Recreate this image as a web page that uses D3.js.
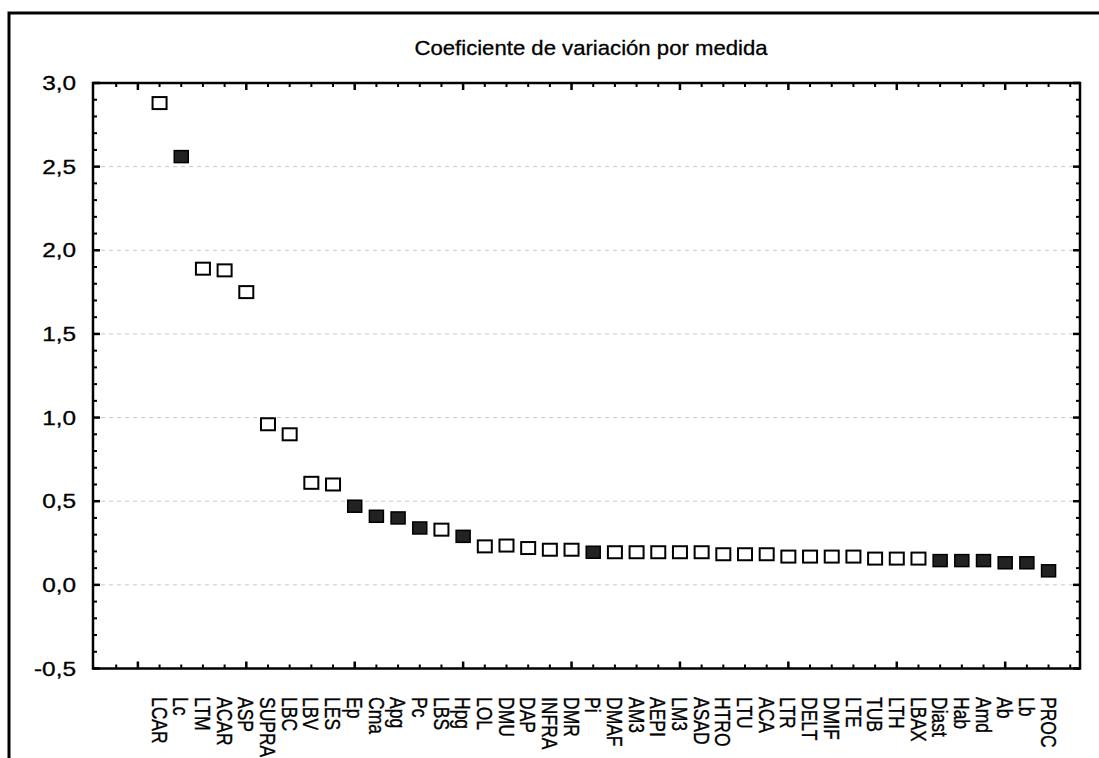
<!DOCTYPE html>
<html>
<head>
<meta charset="utf-8">
<script src="https://cdn.jsdelivr.net/npm/d3@7"></script>
<style>
  html, body { margin: 0; padding: 0; background: #fff; }
  svg { display: block; }
  text { font-family: "Liberation Sans", Arial, sans-serif; fill: #000; stroke: #000; stroke-width: 0.3px; }
</style>
</head>
<body>
<svg id="chart" width="1099" height="758"></svg>
<script>
// ---- data ----
const categories = ["LCAR","Lc","LTM","ACAR","ASP","SUPRA","LBC","LBV","LES","Ep","Cma","Apg","Pc","LBS","Hpg","LOL","DMU","DAP","INFRA","DMR","Pi","DMAF","AM3","AEPI","LM3","ASAD","HTRO","LTU","ACA","LTR","DELT","DMIF","LTE","TUB","LTH","LBAX","Diast","Hab","Amd","Ab","Lb","PROC"];
const values = [2.88,2.56,1.89,1.88,1.75,0.96,0.90,0.61,0.60,0.47,0.41,0.40,0.34,0.33,0.29,0.23,0.235,0.22,0.21,0.21,0.195,0.195,0.195,0.195,0.195,0.195,0.183,0.183,0.183,0.169,0.169,0.169,0.169,0.157,0.157,0.157,0.145,0.145,0.145,0.132,0.132,0.084];
const filled = [0,1,0,0,0,0,0,0,0,1,1,1,1,0,1,0,0,0,0,0,1,0,0,0,0,0,0,0,0,0,0,0,0,0,0,0,1,1,1,1,1,1];
const yTickValues = [3.0,2.5,2.0,1.5,1.0,0.5,0.0,-0.5];
const yTickLabels = ["3,0","2,5","2,0","1,5","1,0","0,5","0,0","-0,5"];
const titleText = "Coeficiente de variación por medida";

// ---- layout ----
const svg = d3.select("#chart");
const L = 93, R = 1080, T = 83, B = 668.5;
const x = d3.scaleLinear().domain([-2.07, 43.45]).range([L, R]);
const y = d3.scaleLinear().domain([-0.5, 3.0]).range([B, T]);

// outer frame (clipped by the picture)
svg.append("path")
  .attr("d", `M9,770 L9,13 L1110,13`)
  .attr("fill", "none").attr("stroke", "#000").attr("stroke-width", 3);

// title
svg.append("text")
  .attr("transform", "translate(591,55) scale(1.08,1)")
  .attr("text-anchor", "middle")
  .attr("font-size", 20.5)
  .text(titleText);

// grid lines
svg.append("g").selectAll("line")
  .data(yTickValues.filter(v => v >= 0 && v < 3))
  .join("line")
  .attr("x1", L).attr("x2", R)
  .attr("y1", d => y(d)).attr("y2", d => y(d))
  .attr("stroke", "#c8c8c8").attr("stroke-width", 1)
  .attr("stroke-dasharray", "4,4");

// y minor/major ticks (inward, both sides)
const yTicksAll = d3.range(-5, 31).map(d => d / 10);
const yt = svg.append("g");
yTicksAll.forEach(v => {
  const major = Math.abs(Math.round(v * 10) % 5) === 0;
  const len = major ? 7 : 4;
  yt.append("line").attr("x1", L).attr("x2", L + len).attr("y1", y(v)).attr("y2", y(v))
    .attr("stroke", "#000").attr("stroke-width", major ? 2.5 : 2);
  yt.append("line").attr("x1", R).attr("x2", R - len).attr("y1", y(v)).attr("y2", y(v))
    .attr("stroke", "#000").attr("stroke-width", major ? 2.5 : 2);
});

// x ticks (inward, top and bottom)
const xTicksAll = d3.range(-1, 44);
const xt = svg.append("g");
xTicksAll.forEach(v => {
  const major = v % 5 === 0;
  const len = major ? 7 : 4;
  xt.append("line").attr("x1", x(v)).attr("x2", x(v)).attr("y1", B).attr("y2", B - len)
    .attr("stroke", "#000").attr("stroke-width", major ? 2.5 : 2);
  xt.append("line").attr("x1", x(v)).attr("x2", x(v)).attr("y1", T).attr("y2", T + len)
    .attr("stroke", "#000").attr("stroke-width", major ? 2.5 : 2);
});

// plot border
svg.append("rect")
  .attr("x", L).attr("y", T).attr("width", R - L).attr("height", B - T)
  .attr("fill", "none").attr("stroke", "#000").attr("stroke-width", 2.5);

// y tick labels
svg.append("g").selectAll("text")
  .data(yTickValues)
  .join("text")
  .attr("transform", d => `translate(76,${y(d)}) scale(1.25,1)`)
  .attr("text-anchor", "end")
  .attr("dy", "0.36em")
  .attr("font-size", 19.5)
  .text((d, i) => yTickLabels[i]);

// x category labels (rotated)
svg.append("g").selectAll("text")
  .data(categories)
  .join("text")
  .attr("transform", (d, i) => `translate(${x(i + 1)},697) scale(1.25,1) rotate(90)`)
  .attr("text-anchor", "start")
  .attr("dy", "0.36em")
  .attr("font-size", 17.5)
  .text(d => d);

// markers
const mw = 14, mh = 12;
svg.append("g").selectAll("rect")
  .data(values)
  .join("rect")
  .attr("x", (d, i) => x(i + 1) - mw / 2)
  .attr("y", d => y(d) - mh / 2)
  .attr("width", mw).attr("height", mh)
  .attr("fill", (d, i) => filled[i] ? "#222" : "#fff")
  .attr("stroke", "#000")
  .attr("stroke-width", (d, i) => filled[i] ? 1.5 : 2);
</script>
</body>
</html>
